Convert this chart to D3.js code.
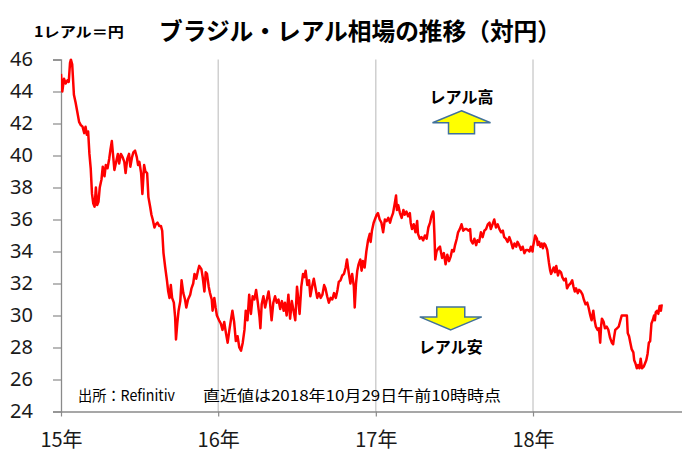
<!DOCTYPE html>
<html>
<head>
<meta charset="utf-8">
<script src="https://cdn.jsdelivr.net/npm/d3@7"></script>
<style>
  html, body { margin: 0; padding: 0; background: #fff; }
  text { font-family: "Noto Sans", "Noto Sans CJK JP", sans-serif; }
  .jp { font-family: "Noto Sans CJK JP", sans-serif; }
</style>
</head>
<body>
<div id="chart"></div>
<script>
const rate2015 = [
  [0,45.1],[3,44.0],[7,44.8],[11,44.5],[15,44.7],[18,44.6],[21,45.8],[23,46.0],[26,45.7],[30,43.8],
  [34,43.3],[38,42.7],[42,42.1],[46,41.9],[50,41.8],[54,41.4],[57,41.8],[60,41.3],[63,41.5],[66,40.1],
  [69,39.2],[72,37.6],[75,37.0],[78,36.8],[81,38.0],[84,36.9],[87,37.1],[90,38.0],[94,38.5],[97,39.3],
  [101,38.7],[104,39.4],[108,39.2],[112,39.8],[115,40.4],[118,40.9],[121,40.0],[124,39.1],[128,39.6],[132,40.1],
  [135,39.5],[139,40.1],[143,39.9],[147,39.6],[150,38.9],[154,39.8],[158,40.1],[161,39.3],[165,39.9],[168,40.2],
  [172,40.3],[176,39.9],[179,39.4],[182,39.6],[186,38.9],[189,37.6],[193,39.4],[196,39.0],[200,38.9],[203,37.4],
  [207,36.8],[210,36.3],[213,36.0],[217,35.5],[220,35.7],[224,35.8],[228,35.6],[232,35.6],[235,35.3],[238,33.9],
  [242,33.0],[246,32.2],[249,31.5],[252,31.1],[255,31.9],[258,31.1],[262,30.8],[265,29.9],[267,28.5],[270,29.5],
  [273,30.3],[277,30.9],[280,32.2],[284,31.4],[288,31.0],[291,30.5],[295,31.0],[300,31.3],[303,31.7],[307,32.0],
  [310,32.6],[314,32.3],[318,32.8],[321,33.1],[326,32.9],[329,32.4],[333,31.5],[336,32.7],[339,32.6],[343,31.8],
  [346,31.4],[350,31.0],[352,30.3],[356,31.1],[359,30.5],[362,30.0]
];
const rate2016 = [
  [2,29.7],[6,29.5],[10,29.1],[14,29.6],[18,28.9],[22,28.3],[26,29.1],[30,29.8],[33,30.3],[37,29.6],
  [41,28.4],[45,28.7],[49,28.0],[53,27.8],[57,28.3],[61,29.1],[64,30.3],[68,29.7],[72,31.3],[76,30.1],
  [80,31.2],[84,31.0],[88,31.6],[92,30.8],[96,29.9],[98,29.2],[101,30.7],[105,31.2],[109,30.5],[113,31.0],
  [117,31.5],[120,30.9],[124,29.7],[128,30.8],[132,31.2],[136,30.8],[140,31.0],[144,30.4],[148,30.9],[152,30.3],
  [155,30.8],[159,30.0],[163,31.3],[167,29.8],[171,30.9],[175,30.3],[179,29.7],[183,31.8],[186,31.0],[189,30.1],
  [193,31.8],[197,32.6],[200,32.4],[203,32.8],[207,31.9],[211,32.2],[214,31.2],[218,31.8],[222,32.3],[226,31.7],
  [230,31.1],[234,31.4],[238,31.1],[242,31.3],[246,31.9],[249,31.7],[253,31.2],[257,30.8],[261,31.1],[265,31.0],
  [269,31.4],[273,31.1],[277,31.6],[280,32.1],[284,32.2],[288,32.5],[292,32.6],[296,33.0],[299,33.5],[303,32.7],
  [307,32.0],[311,32.6],[315,31.8],[317,30.5],[320,32.0],[323,32.8],[326,33.2],[330,33.5],[333,32.8],[336,33.4],
  [340,33.0],[344,34.0],[348,34.7],[352,35.1],[354,34.6],[357,35.3],[361,35.8]
];
const rate2017 = [
  [2,36.3],[5,36.4],[9,36.0],[13,35.8],[17,35.2],[21,36.0],[25,35.9],[29,36.1],[33,35.8],[36,36.1],
  [40,36.4],[44,37.0],[47,37.5],[49,36.6],[52,36.9],[56,36.4],[60,36.1],[64,36.6],[67,36.3],[71,36.5],
  [75,36.2],[79,36.4],[81,35.8],[84,35.4],[88,35.7],[92,35.2],[96,35.9],[98,35.1],[102,34.8],[106,34.9],
  [110,34.7],[114,35.0],[118,34.8],[122,35.5],[126,35.8],[129,36.2],[133,36.5],[134,36.4],[136,35.1],[138,33.5],
  [141,34.0],[145,34.2],[149,34.3],[151,34.0],[154,33.6],[158,33.9],[162,33.2],[166,33.8],[170,33.4],[174,33.7],
  [177,34.1],[181,34.0],[184,34.4],[188,34.8],[191,35.2],[195,35.4],[199,35.7],[203,35.3],[207,35.4],[211,35.4],
  [215,35.3],[219,35.4],[221,34.7],[225,34.5],[229,34.8],[233,34.4],[236,34.7],[240,34.6],[244,35.2],[248,34.9],
  [252,35.3],[256,35.4],[260,35.7],[264,35.8],[267,35.4],[271,35.7],[275,36.0],[279,35.5],[283,35.7],[287,35.4],
  [291,35.2],[295,35.3],[298,34.9],[302,34.8],[306,34.6],[310,34.9],[314,34.6],[318,34.2],[322,34.5],[326,34.3],
  [329,34.6],[333,34.4],[337,34.1],[341,34.3],[345,33.9],[349,34.1],[353,34.1],[357,34.0],[360,34.3],[364,34.0]
];
const rate2018 = [
  [0,34.3],[3,34.7],[5,35.0],[9,34.8],[11,34.4],[14,34.6],[17,34.3],[20,34.5],[23,34.2],[26,34.5],
  [29,34.4],[33,34.1],[35,33.7],[37,33.3],[40,32.8],[42,32.6],[45,32.8],[48,33.0],[51,32.7],[54,33.1],
  [58,32.5],[61,32.8],[65,32.7],[68,32.4],[72,32.2],[76,32.3],[79,31.7],[83,31.9],[87,32.0],[91,32.2],
  [94,31.8],[97,31.5],[100,31.7],[104,31.4],[107,31.6],[111,31.5],[115,31.3],[118,31.0],[122,30.7],[126,30.8],
  [129,30.5],[133,30.0],[136,29.7],[140,30.3],[143,29.7],[146,29.3],[150,29.1],[153,29.2],[156,28.3],[158,29.3],
  [160,29.8],[164,29.6],[167,29.2],[171,29.3],[175,29.1],[179,28.6],[183,28.3],[186,28.2],[188,28.6],[191,29.1],
  [195,29.2],[199,29.3],[203,29.7],[206,30.0],[210,30.0],[214,30.0],[218,30.0],[220,28.9],[223,28.7],[226,28.3],
  [229,27.9],[233,27.7],[235,27.2],[238,27.0],[241,26.7],[244,26.9],[247,26.7],[250,27.3],[253,26.7],[257,26.8],
  [260,27.0],[263,27.2],[266,27.6],[269,28.3],[272,28.4],[275,29.5],[278,29.7],[281,30.0],[283,29.7],[285,30.2],
  [288,30.3],[291,30.1],[294,30.6],[297,30.3],[299,30.7]
];
const years = [2015, 2016, 2017, 2018];
const yearLabels = ["15年", "16年", "17年", "18年"];
const yTickValues = [24, 26, 28, 30, 32, 34, 36, 38, 40, 42, 44, 46];

const W = 682, H = 453;
const margin = { top: 59.5, right: 0, bottom: 41.5, left: 61 };
const yearWidth = 157.3;

const series = [rate2015, rate2016, rate2017, rate2018].flatMap((rows, i) =>
  rows.map(([day, v]) => ({ date: d3.timeDay.offset(new Date(years[i], 0, 1), day), value: v })));

const svg = d3.select("#chart").append("svg")
  .attr("width", W).attr("height", H)
  .style("background", "#fff");

const x = d3.scaleTime()
  .domain([new Date(2015, 0, 1), new Date(2019, 0, 1)])
  .range([margin.left, margin.left + 4 * yearWidth]);
const y = d3.scaleLinear()
  .domain([24, 46])
  .range([H - margin.bottom, margin.top]);

const yearDates = years.map(yr => new Date(yr, 0, 1));

// vertical year gridlines
svg.append("g")
  .selectAll("line")
  .data(yearDates.slice(1))
  .enter().append("line")
  .attr("x1", d => x(d)).attr("x2", d => x(d))
  .attr("y1", y(46)).attr("y2", y(24))
  .attr("stroke", "#c4c4c4").attr("stroke-width", 1.2);

// y axis
const yAxis = svg.append("g")
  .attr("transform", `translate(${margin.left},0)`)
  .call(d3.axisLeft(y).tickValues(yTickValues).tickSize(8).tickPadding(20).tickFormat(d3.format("d")));
yAxis.select(".domain").attr("stroke", "#8a8a8a").attr("stroke-width", 1.3);
yAxis.selectAll(".tick line").attr("stroke", "#8a8a8a").attr("stroke-width", 1.2);
yAxis.selectAll("text")
  .style("font-size", "20px")
  .attr("fill", "#1a1a1a");

// x axis
const xAxis = svg.append("g")
  .attr("transform", `translate(0,${y(24)})`)
  .call(d3.axisBottom(x).tickValues(yearDates).tickSize(5).tickPadding(16)
    .tickFormat((d, i) => yearLabels[i]));
xAxis.select(".domain").attr("stroke", "#8a8a8a").attr("stroke-width", 1.3)
  .attr("d", `M${margin.left},0.5H${W}`);
xAxis.selectAll(".tick line").attr("stroke", "#8a8a8a").attr("stroke-width", 1.2);
xAxis.selectAll("text")
  .attr("class", "jp")
  .style("font-size", "20px")
  .attr("fill", "#1a1a1a");

// rate line
svg.append("clipPath").attr("id", "plotClip")
  .append("rect")
  .attr("x", margin.left).attr("y", y(46) - 1)
  .attr("width", W - margin.left).attr("height", y(24) - y(46) + 1);

const line = d3.line()
  .x(d => x(d.date))
  .y(d => y(d.value));

svg.append("path")
  .datum(series)
  .attr("clip-path", "url(#plotClip)")
  .attr("fill", "none")
  .attr("stroke", "#ff0000")
  .attr("stroke-width", 2.5)
  .attr("stroke-linejoin", "round")
  .attr("d", line);

// titles
svg.append("text")
  .attr("class", "jp")
  .attr("x", 159).attr("y", 40)
  .attr("textLength", 402).attr("lengthAdjust", "spacingAndGlyphs")
  .style("font-size", "24px").style("font-weight", "bold")
  .text("ブラジル・レアル相場の推移（対円）");

svg.append("text")
  .attr("class", "jp")
  .attr("x", 34).attr("y", 37)
  .attr("textLength", 90).attr("lengthAdjust", "spacingAndGlyphs")
  .style("font-size", "14px").style("font-weight", "bold")
  .text("1レアル＝円");

// source note
svg.append("text")
  .attr("class", "jp")
  .attr("x", 78).attr("y", 401)
  .attr("textLength", 97).attr("lengthAdjust", "spacingAndGlyphs")
  .style("font-size", "15px")
  .text("出所：Refinitiv");
svg.append("text")
  .attr("class", "jp")
  .attr("x", 203).attr("y", 401)
  .attr("textLength", 298).attr("lengthAdjust", "spacingAndGlyphs")
  .style("font-size", "15px")
  .text("直近値は2018年10月29日午前10時時点");

// arrows: real up / real down
function arrow(tipX, tipY, dir, headHalf, headLen, shaftHalf, totalLen) {
  const s = dir; // -1 points up, +1 points down
  const pts = [
    [tipX, tipY],
    [tipX + headHalf, tipY - s * headLen],
    [tipX + shaftHalf, tipY - s * headLen],
    [tipX + shaftHalf, tipY - s * totalLen],
    [tipX - shaftHalf, tipY - s * totalLen],
    [tipX - shaftHalf, tipY - s * headLen],
    [tipX - headHalf, tipY - s * headLen]
  ];
  svg.append("path")
    .attr("d", d3.line()(pts) + "Z")
    .attr("fill", "#ffff00")
    .attr("stroke", "#41719c")
    .attr("stroke-width", 1.5)
    .attr("stroke-linejoin", "miter");
}

const upX = x(new Date(2017, 6, 19)), upY = y(42.8);
arrow(upX, upY, -1, 29, 12, 13, 23);
svg.append("text")
  .attr("class", "jp")
  .attr("x", upX).attr("y", upY - 8)
  .attr("text-anchor", "middle")
  .style("font-size", "16px").style("font-weight", "bold")
  .text("レアル高");

const downX = x(new Date(2017, 5, 24)), downY = y(29.1);
arrow(downX, downY, 1, 31, 13, 14, 23);
svg.append("text")
  .attr("class", "jp")
  .attr("x", downX).attr("y", downY + 23)
  .attr("text-anchor", "middle")
  .style("font-size", "16px").style("font-weight", "bold")
  .text("レアル安");
</script>
</body>
</html>
